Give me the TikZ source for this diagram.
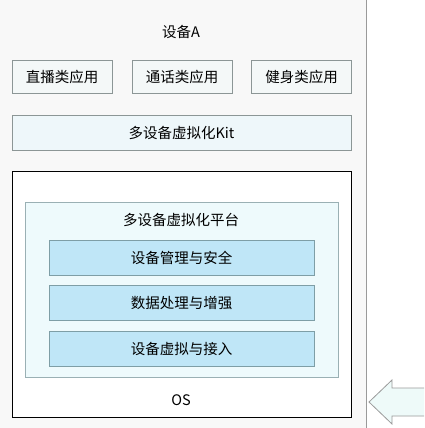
\documentclass[tikz,border=0pt]{standalone}
\usepackage{fontspec}
\setmainfont{Noto Sans CJK SC}
\usetikzlibrary{positioning}
\definecolor{devbg}{HTML}{F8F8F8}
\definecolor{devline}{HTML}{9A9A9A}
\definecolor{appfill}{HTML}{F4F8F8}
\definecolor{appline}{HTML}{8C9696}
\definecolor{kitfill}{HTML}{EEF7FA}
\definecolor{platfill}{HTML}{EEFAFC}
\definecolor{platline}{HTML}{9AB0B4}
\definecolor{modfill}{HTML}{BFE6F7}
\definecolor{modline}{HTML}{7E9EA6}
\definecolor{arrfill}{HTML}{EEFAF9}
\begin{document}
\begin{tikzpicture}[x=1pt,y=-1pt,font=\fontsize{14.5}{17}\selectfont]
\tikzstyle{app}=[rectangle,draw=appline,fill=appfill,line width=0.8pt,minimum width=100pt,minimum height=33.5pt,inner sep=0pt]
\tikzstyle{kit}=[rectangle,draw=appline,fill=kitfill,line width=0.8pt,minimum width=339pt,minimum height=35pt,inner sep=0pt]
\tikzstyle{module}=[rectangle,draw=modline,fill=modfill,line width=0.8pt,minimum width=265pt,minimum height=35pt,inner sep=0pt]
\tikzstyle{label}=[inner sep=0pt]
\useasboundingbox (0,0) rectangle (424,428);
\clip (0,0) rectangle (424,428);
% device frame
\fill[white] (0,0) rectangle (424,428);
\draw[devline,fill=devbg,line width=0.8pt] (-5,-5) rectangle (366,433);
\node (devA) [label] at (181,32) {设备A};
\node (live) [app] at (62,77) {直播类应用};
\node (call) [app] at (182,77) {通话类应用};
\node (fit) [app] at (301.5,77) {健身类应用};
\node (kit) [kit] at (181.5,132.5) {多设备虚拟化Kit};
% OS and platform
\node (os) [rectangle,draw=black,fill=white,line width=0.9pt,minimum width=339pt,minimum height=246pt] at (181.5,294) {};
\node (plat) [rectangle,draw=platline,fill=platfill,line width=0.8pt,minimum width=313pt,minimum height=175pt] at (181.5,289.5) {};
\node (platlbl) [label] at (181,220) {多设备虚拟化平台};
\node (mgmt) [module] at (181.5,257.5) {设备管理与安全};
\node (data) [module] at (181.5,303) {数据处理与增强};
\node (virt) [module] at (181.5,349) {设备虚拟与接入};
\node (oslbl) [label] at (181,400) {OS};
% incoming arrow
\draw[devline,fill=arrfill,line width=0.8pt] (369,402) -- (392,380) -- (392,388) -- (440,388) -- (440,416) -- (392,416) -- (392,424) -- cycle;
\end{tikzpicture}
\end{document}
